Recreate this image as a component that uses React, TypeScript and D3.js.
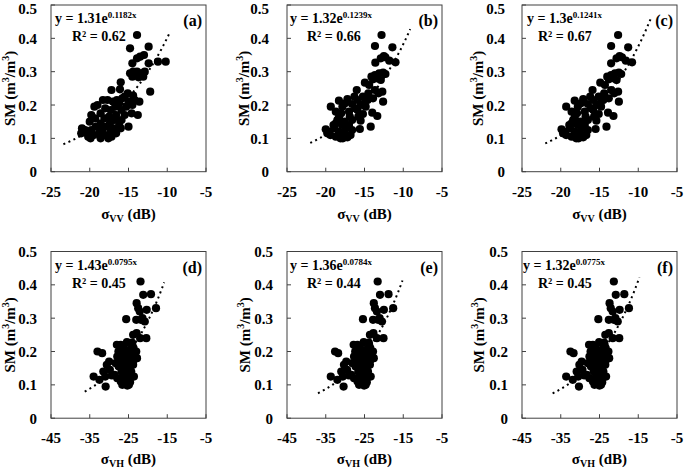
import React from "react";
import * as d3 from "d3";

// ---------- DATA ----------
const panelIds = ["a", "b", "c", "d", "e", "f"];
const polarization = ["VV", "VV", "VV", "VH", "VH", "VH"];
const coefA = [1.31, 1.32, 1.3, 1.43, 1.36, 1.32];
const coefB = [0.1182, 0.1239, 0.1241, 0.0795, 0.0784, 0.0775];
const coefALabels = ["1.31", "1.32", "1.3", "1.43", "1.36", "1.32"];
const coefBLabels = ["0.1182x", "0.1239x", "0.1241x", "0.0795x", "0.0784x", "0.0775x"];
const r2Labels = ["0.62", "0.66", "0.67", "0.45", "0.44", "0.45"];
const fitFrom = [-23.4, -22.0, -22.0, -36.3, -37.0, -37.1];
const fitTo = [-9.6, -9.1, -8.4, -15.8, -15.2, -14.7];

const xTicksVV = [-25, -20, -15, -10, -5];
const xTicksVH = [-45, -35, -25, -15, -5];
const yTicks = [0, 0.1, 0.2, 0.3, 0.4, 0.5];

const pointsA: [number, number][] = [
  [-13.9, 0.41], [-14.8, 0.37], [-12.4, 0.375], [-13.0, 0.35], [-13.5, 0.345], [-13.9, 0.34],
  [-14.5, 0.325], [-12.4, 0.325], [-11.2, 0.33], [-10.2, 0.33],
  [-14.8, 0.295], [-14.4, 0.3], [-13.9, 0.3], [-13.4, 0.295], [-12.9, 0.3], [-14.5, 0.285],
  [-13.7, 0.283], [-13.1, 0.285], [-14.0, 0.29],
  [-16.0, 0.268], [-17.2, 0.245], [-16.1, 0.247], [-12.2, 0.24],
  [-15.1, 0.235], [-14.4, 0.228], [-15.5, 0.225], [-14.2, 0.215], [-15.8, 0.22], [-16.5, 0.215],
  [-17.7, 0.215], [-18.3, 0.215], [-17.0, 0.21], [-16.2, 0.205], [-15.0, 0.21], [-14.5, 0.2],
  [-13.6, 0.21], [-15.3, 0.195], [-16.7, 0.195], [-19.0, 0.2], [-19.4, 0.195], [-18.0, 0.19],
  [-17.3, 0.185], [-15.9, 0.185], [-14.6, 0.175], [-13.8, 0.17], [-15.5, 0.17], [-16.6, 0.17],
  [-18.6, 0.175], [-19.8, 0.17], [-17.5, 0.165],
  [-19.3, 0.16], [-18.1, 0.16], [-16.8, 0.155], [-15.9, 0.155], [-20.0, 0.15], [-18.6, 0.145],
  [-17.4, 0.145], [-16.2, 0.14], [-19.2, 0.135], [-17.9, 0.135], [-16.9, 0.13], [-15.0, 0.135],
  [-21.0, 0.13], [-20.6, 0.125], [-19.8, 0.125], [-18.4, 0.125], [-17.3, 0.12], [-21.1, 0.115],
  [-20.3, 0.115], [-19.5, 0.11], [-18.8, 0.115], [-18.0, 0.11], [-17.2, 0.105], [-19.9, 0.1],
  [-18.6, 0.1], [-17.6, 0.1], [-16.6, 0.115], [-20.2, 0.105], [-16.0, 0.13],
];

const pointsB: [number, number][] = [
  [-12.8, 0.41], [-13.65, 0.377], [-11.4, 0.373], [-12.5, 0.347], [-12.3, 0.343], [-12.9, 0.34],
  [-11.8, 0.333], [-11.0, 0.328], [-13.6, 0.327],
  [-14.1, 0.285], [-13.65, 0.29], [-13.1, 0.295], [-12.6, 0.297], [-12.3, 0.293], [-13.35, 0.28],
  [-13.9, 0.277], [-14.95, 0.267], [-16.0, 0.245], [-13.65, 0.245], [-12.7, 0.24], [-14.5, 0.235],
  [-15.2, 0.225], [-13.9, 0.22], [-12.6, 0.21], [-17.2, 0.218], [-18.3, 0.213], [-15.9, 0.215],
  [-16.6, 0.203], [-15.5, 0.2], [-14.85, 0.195], [-19.35, 0.195], [-17.85, 0.195], [-18.7, 0.18],
  [-17.0, 0.18], [-15.9, 0.185], [-14.0, 0.177], [-15.2, 0.173], [-13.35, 0.167], [-18.3, 0.163],
  [-16.6, 0.155], [-17.6, 0.15], [-15.5, 0.153], [-18.7, 0.145], [-17.0, 0.14], [-15.6, 0.128],
  [-14.2, 0.135], [-20.0, 0.127], [-19.6, 0.12], [-18.9, 0.13], [-18.3, 0.12], [-17.6, 0.115],
  [-18.7, 0.105], [-18.1, 0.1], [-17.2, 0.103], [-19.4, 0.11], [-16.6, 0.125], [-17.4, 0.13],
  [-16.2, 0.19], [-17.5, 0.205], [-16.9, 0.165], [-18.0, 0.175], [-15.0, 0.205], [-14.6, 0.215],
  [-16.3, 0.225], [-19.0, 0.14], [-17.9, 0.14], [-16.8, 0.11], [-19.8, 0.115], [-18.5, 0.155],
  [-15.8, 0.165], [-14.4, 0.26], [-13.2, 0.235], [-12.9, 0.275], [-17.8, 0.1],
];

const pointsC: [number, number][] = [
  [-12.6, 0.41], [-13.5, 0.377], [-11.3, 0.373], [-12.4, 0.347], [-12.1, 0.343], [-12.8, 0.34],
  [-11.6, 0.333], [-10.8, 0.328], [-13.5, 0.325],
  [-14.0, 0.285], [-13.5, 0.29], [-13.0, 0.295], [-12.5, 0.297], [-12.2, 0.293], [-13.2, 0.28],
  [-13.8, 0.277], [-14.9, 0.267], [-15.9, 0.245], [-13.5, 0.245], [-12.6, 0.24], [-14.4, 0.235],
  [-15.1, 0.225], [-13.8, 0.22], [-12.5, 0.21], [-17.1, 0.218], [-18.2, 0.213], [-15.8, 0.215],
  [-16.5, 0.203], [-15.4, 0.2], [-14.8, 0.195], [-19.3, 0.195], [-17.8, 0.195], [-18.6, 0.18],
  [-16.9, 0.18], [-15.8, 0.185], [-13.9, 0.177], [-15.1, 0.173], [-13.2, 0.167], [-18.2, 0.163],
  [-16.5, 0.155], [-17.5, 0.15], [-15.4, 0.153], [-18.6, 0.145], [-16.9, 0.14], [-15.5, 0.128],
  [-14.1, 0.135], [-19.9, 0.127], [-19.5, 0.12], [-18.8, 0.13], [-18.2, 0.12], [-17.5, 0.115],
  [-18.6, 0.105], [-18.0, 0.1], [-17.1, 0.103], [-19.3, 0.11], [-16.5, 0.125], [-17.3, 0.13],
  [-16.1, 0.19], [-17.4, 0.205], [-16.8, 0.165], [-17.9, 0.175], [-14.9, 0.205], [-14.5, 0.215],
  [-16.2, 0.225], [-18.9, 0.14], [-17.8, 0.14], [-16.7, 0.11], [-19.7, 0.115], [-18.4, 0.155],
  [-15.7, 0.165], [-14.3, 0.26], [-13.1, 0.235], [-12.8, 0.275], [-17.7, 0.1],
];

const pointsD: [number, number][] = [
  [-21.9, 0.41], [-21.2, 0.37], [-19.2, 0.372], [-17.9, 0.33], [-22.9, 0.345], [-22.5, 0.33],
  [-20.3, 0.325], [-22.1, 0.32], [-23.0, 0.295], [-21.8, 0.295], [-20.8, 0.29], [-21.4, 0.3],
  [-25.6, 0.297], [-20.4, 0.24], [-22.0, 0.24],
  [-23.8, 0.25], [-22.9, 0.255], [-24.1, 0.227], [-25.4, 0.228], [-27.0, 0.22], [-28.0, 0.22],
  [-26.4, 0.215], [-23.7, 0.21], [-24.8, 0.205], [-26.0, 0.2], [-27.6, 0.2], [-25.3, 0.195],
  [-23.4, 0.195], [-24.2, 0.185], [-26.5, 0.185], [-27.9, 0.185], [-25.8, 0.175], [-24.6, 0.17],
  [-23.6, 0.175], [-27.2, 0.17], [-28.3, 0.165], [-26.1, 0.16], [-24.9, 0.155], [-23.8, 0.16],
  [-27.5, 0.155], [-25.5, 0.145], [-24.3, 0.14], [-26.8, 0.14], [-28.6, 0.13], [-27.9, 0.12],
  [-26.2, 0.125], [-25.0, 0.125], [-23.6, 0.125], [-27.0, 0.11], [-25.8, 0.11], [-24.6, 0.108],
  [-26.6, 0.1], [-25.3, 0.098], [-24.9, 0.1], [-26.0, 0.135], [-25.6, 0.185], [-24.0, 0.22],
  [-23.0, 0.2], [-22.8, 0.18],
  [-33.0, 0.2], [-31.8, 0.195], [-30.0, 0.17], [-30.6, 0.16], [-31.5, 0.14], [-34.0, 0.125],
  [-32.5, 0.115], [-30.9, 0.095], [-29.3, 0.128], [-29.8, 0.145], [-31.0, 0.125],
];

const pointsE: [number, number][] = [
  [-21.6, 0.41], [-21.0, 0.37], [-18.8, 0.372], [-17.6, 0.33], [-22.6, 0.345], [-22.3, 0.33],
  [-20.0, 0.325], [-21.8, 0.32], [-22.8, 0.295], [-21.5, 0.295], [-20.5, 0.29], [-21.1, 0.3],
  [-25.4, 0.297], [-20.1, 0.24], [-21.8, 0.24],
  [-23.6, 0.25], [-22.7, 0.255], [-23.9, 0.227], [-25.2, 0.228], [-26.8, 0.22], [-27.8, 0.22],
  [-26.2, 0.215], [-23.5, 0.21], [-24.6, 0.205], [-25.8, 0.2], [-27.4, 0.2], [-25.1, 0.195],
  [-23.2, 0.195], [-24.0, 0.185], [-26.3, 0.185], [-27.7, 0.185], [-25.6, 0.175], [-24.4, 0.17],
  [-23.4, 0.175], [-27.0, 0.17], [-28.1, 0.165], [-25.9, 0.16], [-24.7, 0.155], [-23.6, 0.16],
  [-27.3, 0.155], [-25.3, 0.145], [-24.1, 0.14], [-26.6, 0.14], [-28.4, 0.13], [-27.7, 0.12],
  [-26.0, 0.125], [-24.8, 0.125], [-23.4, 0.125], [-26.8, 0.11], [-25.6, 0.11], [-24.4, 0.108],
  [-26.4, 0.1], [-25.1, 0.098], [-24.7, 0.1], [-25.8, 0.135], [-25.4, 0.185], [-23.8, 0.22],
  [-22.8, 0.2], [-22.6, 0.18],
  [-32.6, 0.2], [-31.8, 0.195], [-29.7, 0.17], [-30.3, 0.16], [-31.0, 0.14], [-33.7, 0.125],
  [-32.0, 0.115], [-30.4, 0.095], [-29.0, 0.128], [-29.5, 0.145], [-30.6, 0.125],
];

const pointsF: [number, number][] = [
  [-21.3, 0.41], [-20.8, 0.37], [-18.6, 0.372], [-17.4, 0.33], [-22.4, 0.345], [-22.1, 0.33],
  [-19.8, 0.325], [-21.6, 0.32], [-22.6, 0.295], [-21.3, 0.295], [-20.3, 0.29], [-20.9, 0.3],
  [-25.3, 0.297], [-19.9, 0.24], [-21.6, 0.24],
  [-23.5, 0.25], [-22.6, 0.255], [-23.8, 0.227], [-25.1, 0.228], [-26.7, 0.22], [-27.7, 0.22],
  [-26.1, 0.215], [-23.4, 0.21], [-24.5, 0.205], [-25.7, 0.2], [-27.3, 0.2], [-25.0, 0.195],
  [-23.1, 0.195], [-23.9, 0.185], [-26.2, 0.185], [-27.6, 0.185], [-25.5, 0.175], [-24.3, 0.17],
  [-23.3, 0.175], [-26.9, 0.17], [-28.0, 0.165], [-25.8, 0.16], [-24.6, 0.155], [-23.5, 0.16],
  [-27.2, 0.155], [-25.2, 0.145], [-24.0, 0.14], [-26.5, 0.14], [-28.3, 0.13], [-27.6, 0.12],
  [-25.9, 0.125], [-24.7, 0.125], [-23.3, 0.125], [-26.7, 0.11], [-25.5, 0.11], [-24.3, 0.108],
  [-26.3, 0.1], [-25.0, 0.098], [-24.6, 0.1], [-25.7, 0.135], [-25.3, 0.185], [-23.7, 0.22],
  [-22.7, 0.2], [-22.5, 0.18],
  [-32.5, 0.2], [-31.7, 0.195], [-29.6, 0.17], [-30.2, 0.16], [-30.9, 0.14], [-33.6, 0.125],
  [-31.9, 0.115], [-30.3, 0.095], [-28.9, 0.128], [-29.4, 0.145], [-30.5, 0.125],
];

const allPoints = [pointsA, pointsB, pointsC, pointsD, pointsE, pointsF];

// ---------- LAYOUT ----------
const W = 685;
const H = 470;
const FONT = "'Liberation Serif', 'Times New Roman', serif";
const PW = 155;
const PH = 166.7;
const lefts = [51, 287, 522, 51, 287, 522];
const tops = [5, 5, 5, 251.5, 251.5, 251.5];
const eqDx = [4, 3, 5, 4, 3, 1];
const r2Dx = [21, 20, 16, 21, 20, 16];
const yLabGap = [14, 18, 17, 14, 14, 14];
const yTitleGap = [41, 43, 44.5, 41, 42, 43];

function Panel({ i }: { i: number }) {
  const left = lefts[i];
  const top = tops[i];
  const isVV = polarization[i] === "VV";
  const xTicks = isVV ? xTicksVV : xTicksVH;
  const x = d3.scaleLinear().domain([xTicks[0], xTicks[xTicks.length - 1]]).range([0, PW]);
  const y = d3.scaleLinear().domain([0, 0.5]).range([PH, 0]);
  const fitXs = d3.range(fitFrom[i], fitTo[i] + 0.001, (fitTo[i] - fitFrom[i]) / 80);
  const line = d3
    .line<number>()
    .x((v) => x(v))
    .y((v) => y(coefA[i] * Math.exp(coefB[i] * v)));
  const pts = allPoints[i];
  const titleY = Math.min(PH + 47, H - 6.5 - top);
  return (
    <g transform={`translate(${left},${top})`} fontFamily={FONT} fontWeight="bold" fill="#000">
      {pts.map((p, k) => (
        <circle key={k} cx={x(p[0])} cy={y(p[1])} r={4.1} fill="#000" />
      ))}
      <path d={line(fitXs) || ""} fill="none" stroke="#000" strokeWidth={2} strokeDasharray="2 3.5" />
      <rect x={0} y={0} width={PW} height={PH} fill="none" stroke="#404040" strokeWidth={1} />
      {xTicks.map((t) => (
        <g key={"x" + t}>
          <line x1={x(t)} x2={x(t)} y1={PH} y2={PH - 4} stroke="#404040" />
          <text x={x(t)} y={PH + 25} textAnchor="middle" fontSize={15}>
            {t}
          </text>
        </g>
      ))}
      {yTicks.map((t) => (
        <g key={"y" + t}>
          <line x1={0} x2={4} y1={y(t)} y2={y(t)} stroke="#404040" />
          <text
            x={-yLabGap[i]}
            y={Math.max(y(t) + 5.5, 13.6 - top)}
            textAnchor="end"
            fontSize={15}
          >
            {t === 0 ? "0" : t.toFixed(1)}
          </text>
        </g>
      ))}
      <text x={PW / 2} y={titleY} textAnchor="middle" fontSize={15}>
        <tspan>σ</tspan>
        <tspan dy={3} fontSize={10}>{polarization[i]}</tspan>
        <tspan dy={-3}> (dB)</tspan>
      </text>
      <text
        transform={`translate(${-yTitleGap[i] + 5},${PH / 2}) rotate(-90)`}
        textAnchor="middle"
        fontSize={15}
      >
        <tspan>SM (m</tspan>
        <tspan dy={-6} fontSize={10}>3</tspan>
        <tspan dy={6}>/m</tspan>
        <tspan dy={-6} fontSize={10}>3</tspan>
        <tspan dy={6}>)</tspan>
      </text>
      <text x={eqDx[i]} y={18} fontSize={14}>
        <tspan>{`y = ${coefALabels[i]}e`}</tspan>
        <tspan dy={-5} fontSize={9}>{coefBLabels[i]}</tspan>
      </text>
      <text x={r2Dx[i]} y={36} fontSize={14}>
        R² = {r2Labels[i]}
      </text>
      <text x={PW - 4} y={21} textAnchor="end" fontSize={16}>
        ({panelIds[i]})
      </text>
    </g>
  );
}

export default function App() {
  return (
    <svg width={W} height={H} style={{ display: "block", position: "absolute", left: 0, top: 0, background: "#fff" }}>
      <rect width={W} height={H} fill="#fff" />
      {panelIds.map((_, i) => (
        <Panel key={i} i={i} />
      ))}
    </svg>
  );
}
